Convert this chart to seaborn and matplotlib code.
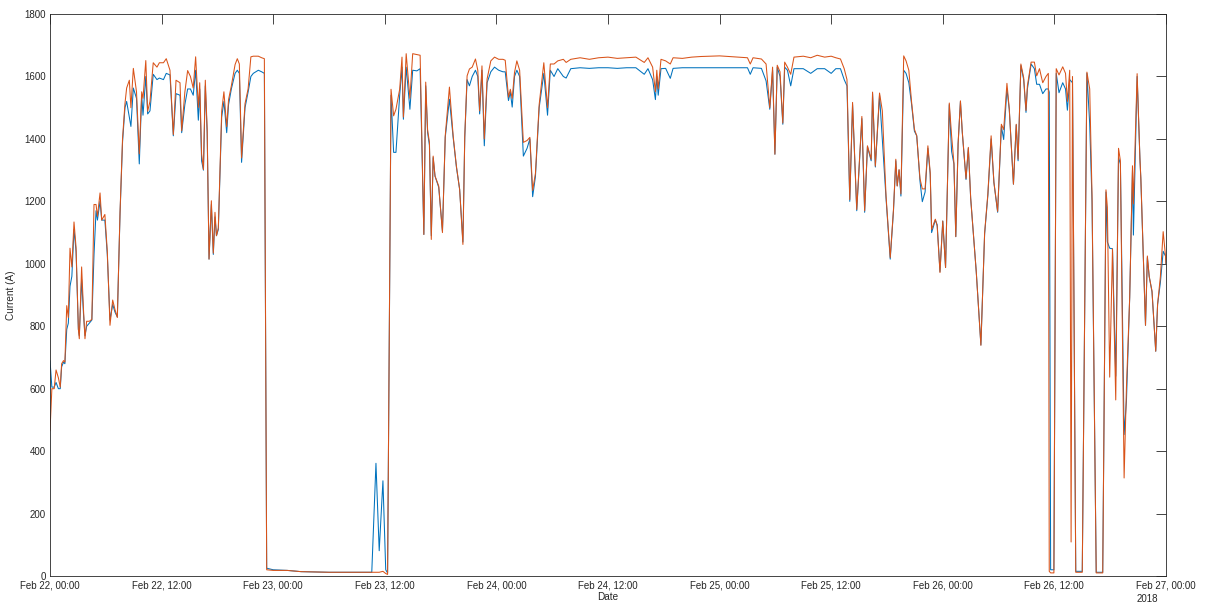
import numpy as np
import pandas as pd
import matplotlib
matplotlib.use("Agg")
import matplotlib.pyplot as plt
import matplotlib.dates as mdates
import seaborn as sns

START = "2018-02-22 00:00"
END = "2018-02-27 00:00"

# hours after START
hours = [
    0.0, 0.2, 0.45, 0.65, 0.9, 1.1, 1.25, 1.45, 1.6, 1.8,
    1.97, 2.15, 2.35, 2.58, 2.8, 3.05, 3.15, 3.4, 3.6, 3.76,
    3.94, 4.23, 4.5, 4.73, 4.95, 5.1, 5.38, 5.56, 5.9, 6.16,
    6.45, 6.74, 6.99, 7.24, 7.53, 7.8, 8.06, 8.24, 8.53, 8.7,
    8.96, 9.3, 9.6, 9.86, 10.0, 10.3, 10.5, 10.75, 11.1, 11.5,
    11.76, 12.2, 12.5, 12.9, 13.26, 13.55, 13.98, 14.16, 14.5, 14.8,
    15.1, 15.4, 15.66, 15.95, 16.1, 16.3, 16.5, 16.7, 16.9, 17.1,
    17.35, 17.56, 17.74, 17.9, 18.1, 18.46, 18.7, 19.0, 19.2, 19.5,
    19.9, 20.14, 20.36, 20.6, 20.97, 21.3, 21.6, 21.86, 22.4, 22.76,
    23.05, 23.3, 24.0, 25.5, 27.0, 30.0, 34.6, 35.05, 35.4, 35.8,
    36.1, 36.3, 36.67, 36.95, 37.2, 37.6, 37.85, 38.0, 38.3, 38.7,
    39.0, 39.45, 39.8, 40.2, 40.4, 40.6, 40.8, 41.0, 41.2, 41.4,
    41.8, 42.2, 42.5, 42.95, 43.35, 43.7, 44.05, 44.4, 44.6, 44.85,
    45.1, 45.4, 45.75, 46.0, 46.2, 46.45, 46.7, 47.0, 47.4, 47.8,
    48.25, 48.7, 48.95, 49.3, 49.5, 49.7, 49.95, 50.2, 50.5, 50.9,
    51.3, 51.6, 51.9, 52.2, 52.6, 53.1, 53.5, 53.8, 54.2, 54.6,
    55.2, 55.5, 56.0, 57.0, 58.0, 59.0, 60.0, 61.0, 62.0, 63.0,
    63.9, 64.3, 64.8, 65.1, 65.25, 65.4, 65.7, 66.2, 66.7, 67.0,
    68.0, 69.0, 70.0, 71.0, 72.0, 73.0, 74.0, 75.0, 75.3, 75.6,
    76.5, 77.0, 77.4, 77.7, 77.95, 78.2, 78.5, 78.8, 79.0, 79.3,
    79.65, 80.0, 81.0, 81.8, 82.5, 83.3, 84.0, 84.5, 85.0, 85.4,
    85.7, 86.0, 86.3, 86.75, 87.3, 87.6, 87.9, 88.3, 88.45, 88.75,
    89.2, 89.5, 89.9, 90.35, 90.7, 90.95, 91.1, 91.3, 91.5, 91.8,
    92.05, 92.35, 92.65, 92.95, 93.2, 93.55, 93.8, 94.1, 94.4, 94.65,
    94.8, 95.2, 95.4, 95.7, 96.0, 96.3, 96.7, 96.95, 97.2, 97.4,
    97.65, 97.9, 98.1, 98.5, 98.75, 99.0, 99.6, 100.1, 100.5, 100.85,
    101.2, 101.5, 101.9, 102.3, 102.55, 102.9, 103.15, 103.6, 103.9, 104.1,
    104.4, 104.7, 104.95, 105.1, 105.5, 105.85, 106.1, 106.4, 106.75, 107.1,
    107.35, 107.45, 107.6, 107.95, 108.2, 108.5, 108.9, 109.2, 109.4, 109.65,
    109.8, 109.95, 110.3, 111.0, 111.5, 111.8, 112.05, 112.5, 113.2, 113.55,
    113.7, 113.95, 114.25, 114.6, 114.9, 115.1, 115.5, 115.75, 116.1, 116.4,
    116.5, 116.9, 117.2, 117.3, 117.8, 118.0, 118.2, 118.5, 118.9, 119.1,
    119.4, 119.7, 119.95, 120.0,
]

# blue trace (A)
phase_a = [
    690, 605, 605, 620, 600, 600, 670, 685, 680, 790,
    810, 928, 960, 1110, 1040, 790, 770, 950, 840, 770,
    800, 810, 820, 1028, 1170, 1140, 1200, 1140, 1140, 1030,
    820, 870, 845, 830, 1160, 1390, 1500, 1520, 1470, 1440,
    1563, 1530, 1320, 1540, 1476, 1600, 1480, 1490, 1607, 1590,
    1595, 1590, 1610, 1605, 1410, 1545, 1540, 1420, 1510, 1560,
    1560, 1540, 1620, 1460, 1560, 1330, 1300, 1570, 1420, 1015,
    1190, 1030, 1150, 1090, 1110, 1470, 1520, 1420, 1510, 1560,
    1610, 1620, 1610, 1325, 1500, 1550, 1600, 1610, 1620, 1615,
    1610, 25, 20, 18, 14, 12, 12, 361, 81, 305,
    20, 10, 1540, 1357, 1357, 1540, 1630, 1463, 1630, 1495,
    1620, 1618, 1625, 1094, 1570, 1421, 1380, 1090, 1340, 1281,
    1245, 1105, 1405, 1527, 1405, 1310, 1238, 1070, 1405, 1590,
    1570, 1600, 1620, 1600, 1480, 1620, 1378, 1580, 1615, 1630,
    1620, 1615, 1615, 1523, 1550, 1502, 1600, 1620, 1600, 1345,
    1370, 1400, 1215, 1280, 1500, 1610, 1476, 1620, 1600, 1625,
    1600, 1595, 1625, 1628, 1626, 1628, 1628, 1626, 1628, 1628,
    1607, 1625, 1590, 1526, 1600, 1540, 1625, 1626, 1594, 1626,
    1628, 1628, 1628, 1628, 1628, 1628, 1628, 1628, 1607, 1628,
    1626, 1586, 1495, 1620, 1351, 1630, 1600, 1447, 1630, 1620,
    1570, 1625, 1625, 1610, 1625, 1625, 1610, 1625, 1625, 1590,
    1570, 1200, 1510, 1170, 1465, 1165, 1375, 1330, 1545, 1310,
    1540, 1399, 1210, 1015, 1170, 1330, 1250, 1300, 1217, 1620,
    1610, 1580, 1510, 1425, 1410, 1265, 1199, 1230, 1370, 1286,
    1100, 1140, 1125, 975, 1137, 988, 1510, 1360, 1320, 1087,
    1385, 1520, 1420, 1270, 1370, 1210, 975, 740, 1095, 1220,
    1400, 1260, 1165, 1440, 1398, 1560, 1495, 1255, 1445, 1330,
    1635, 1590, 1485, 1560, 1640, 1625, 1575, 1575, 1545, 1560,
    1560, 1550, 20, 20, 1610, 1548, 1580, 1560, 1492, 1590,
    1585, 1580, 15, 15, 1610, 1448, 1200, 12, 12, 1230,
    1070, 1050, 1048, 640, 1340, 1320, 453, 560, 892, 1300,
    1092, 1600, 1337, 1270, 803, 1020, 959, 910, 720, 870,
    940, 1040, 1025, 1000,
]

# orange trace (B)
phase_b = [
    465, 600, 600, 660, 635, 605, 680, 690, 685, 866,
    828, 1050, 990, 1134, 1053, 791, 760, 990, 853, 760,
    816, 816, 822, 1190, 1190, 1152, 1227, 1140, 1158, 1040,
    803, 884, 853, 828, 1165, 1401, 1513, 1563, 1588, 1500,
    1626, 1551, 1352, 1551, 1530, 1651, 1489, 1520, 1644, 1630,
    1644, 1644, 1657, 1620, 1414, 1588, 1580, 1426, 1550, 1619,
    1600, 1563, 1663, 1501, 1580, 1352, 1302, 1588, 1430, 1015,
    1202, 1034, 1165, 1090, 1115, 1489, 1551, 1439, 1526, 1570,
    1638, 1657, 1640, 1339, 1513, 1560, 1663, 1665, 1665, 1660,
    1657, 20, 18, 18, 14, 12, 12, 12, 12, 15,
    8, 5, 1559, 1474, 1495, 1559, 1662, 1470, 1673, 1530,
    1673, 1670, 1668, 1094, 1582, 1430, 1389, 1078, 1345, 1281,
    1249, 1100, 1410, 1566, 1410, 1313, 1238, 1062, 1410, 1602,
    1624, 1630, 1656, 1620, 1490, 1634, 1400, 1592, 1650, 1662,
    1655, 1655, 1652, 1534, 1559, 1530, 1613, 1650, 1620, 1389,
    1395, 1405, 1235, 1290, 1510, 1644, 1500, 1640, 1640, 1650,
    1655, 1645, 1655, 1660, 1655, 1660, 1662, 1658, 1660, 1662,
    1645, 1660, 1630, 1551, 1620, 1560, 1655, 1650, 1640, 1660,
    1658, 1662, 1664, 1665, 1666, 1664, 1662, 1660, 1640, 1660,
    1656, 1640, 1500, 1630, 1351, 1636, 1615, 1451, 1646, 1630,
    1607, 1662, 1665, 1660, 1668, 1662, 1665, 1660, 1656, 1625,
    1590, 1206, 1517, 1174, 1472, 1170, 1378, 1335, 1550, 1313,
    1547, 1490, 1217, 1020, 1174, 1335, 1249, 1302, 1224, 1666,
    1650, 1620, 1517, 1431, 1410, 1273, 1240, 1240, 1378, 1292,
    1110, 1143, 1121, 972, 1137, 988, 1515, 1410, 1323, 1087,
    1385, 1522, 1422, 1273, 1373, 1211, 975, 739, 1099, 1224,
    1410, 1261, 1168, 1447, 1430, 1578, 1497, 1255, 1447, 1335,
    1640, 1596, 1491, 1570, 1646, 1646, 1602, 1625, 1580, 1600,
    1610, 15, 10, 10, 1625, 1605, 1631, 1610, 1520, 1620,
    109, 1600, 12, 12, 1614, 1560, 1220, 10, 10, 1237,
    1181, 637, 1048, 564, 1370, 1330, 314, 603, 892, 1314,
    1192, 1609, 1337, 1275, 803, 1025, 959, 913, 720, 870,
    959, 1103, 1025, 1000,
]

y_ticks = list(range(0, 1801, 200))
line_colors = ["#0072BD", "#D95319"]
AXIS_COLOR = "#262626"

sns.set_theme(style="white")
plt.rcParams["font.family"] = ["Liberation Sans", "DejaVu Sans"]

times = pd.Timestamp(START) + pd.to_timedelta(hours, unit="h")
df = pd.DataFrame({
    "time": list(times) * 2,
    "current": phase_a + phase_b,
    "phase": ["A"] * len(hours) + ["B"] * len(hours),
})

fig = plt.figure(figsize=(12.05, 6.08), dpi=100)
ax = fig.add_axes([0.0415, 0.0526, 0.9261, 0.9243])

sns.lineplot(
    data=df, x="time", y="current", hue="phase",
    palette=line_colors, linewidth=0.75, estimator=None,
    legend=False, ax=ax,
)

ax.set_xlim(pd.Timestamp(START), pd.Timestamp(END))
ax.set_ylim(0, 1800)
ax.set_yticks(y_ticks)
ax.xaxis.set_major_locator(mdates.HourLocator(byhour=[0, 12]))
ax.xaxis.set_major_formatter(mdates.DateFormatter("%b %d, %H:%M"))

ax.tick_params(
    direction="in", length=7, width=0.6, colors=AXIS_COLOR,
    labelsize=7, top=True, right=True, pad=3,
)
for spine in ax.spines.values():
    spine.set_visible(True)
    spine.set_color(AXIS_COLOR)
    spine.set_linewidth(0.6)

ax.set_xlabel("Date", fontsize=7.2, color=AXIS_COLOR, labelpad=1)
ax.set_ylabel("Current (A)", fontsize=7.2, color=AXIS_COLOR, labelpad=6)
fig.text(1137 / 1205, 1 - 599 / 608, "2018", ha="left", va="center",
         fontsize=7, color=AXIS_COLOR)

fig.savefig("out.png", dpi=100)
